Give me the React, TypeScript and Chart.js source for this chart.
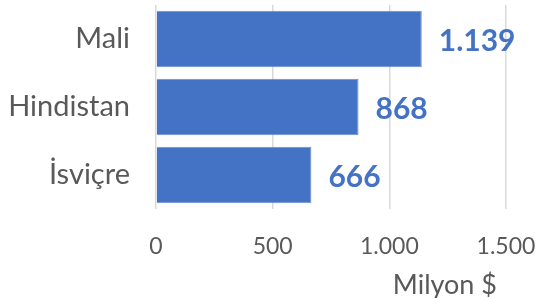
import React, { useEffect, useRef } from "react";
import { Chart, registerables } from "chart.js";

Chart.register(...registerables);

const categories = ["Mali", "Hindistan", "İsviçre"];
const values = [1139, 868, 666];
const valueLabels = ["1.139", "868", "666"];
const xTickValues = [0, 500, 1000, 1500];
const xTickLabels = ["0", "500", "1.000", "1.500"];
const axisTitle = "Milyon $";

const FONT = "Lato, 'Noto Sans', sans-serif";
const BLUE = "#4472C4";
const GRAY = "#595959";

const labelPlugin = {
  id: "barValueLabels",
  afterDatasetsDraw(chart: any) {
    const ctx = chart.ctx;
    const meta = chart.getDatasetMeta(0);
    ctx.save();
    ctx.font = `bold 30px ${FONT}`;
    ctx.fillStyle = BLUE;
    ctx.textAlign = "left";
    ctx.textBaseline = "middle";
    meta.data.forEach((bar: any, i: number) => {
      ctx.fillText(valueLabels[i], bar.x + 17, bar.y + 2);
    });
    // axis title
    const xs = chart.scales.x;
    ctx.font = `27px ${FONT}`;
    ctx.fillStyle = GRAY;
    ctx.textAlign = "right";
    ctx.textBaseline = "middle";
    ctx.fillText(axisTitle, xs.right - 9, 285);
    ctx.restore();
  },
};

const zeroPad = (scale: any) => {
  scale.paddingTop = 0;
  scale.paddingBottom = 0;
  scale.paddingLeft = 0;
  scale.paddingRight = 0;
};

export default function App() {
  const ref = useRef<HTMLCanvasElement | null>(null);
  useEffect(() => {
    document.body.style.margin = "0";
    const chart = new Chart(ref.current!, {
      type: "bar",
      data: {
        labels: categories,
        datasets: [
          {
            data: values,
            backgroundColor: BLUE,
            borderColor: "#6d8fd0",
            borderWidth: 1,
            categoryPercentage: 1,
            barPercentage: 0.833,
          },
        ],
      },
      options: {
        indexAxis: "y",
        animation: false,
        responsive: false,
        maintainAspectRatio: false,
        layout: { padding: { top: 5, right: 30, bottom: 0, left: 0 } },
        plugins: { legend: { display: false }, tooltip: { enabled: false } },
        scales: {
          x: {
            min: 0,
            max: 1500,
            afterBuildTicks: (scale: any) => {
              scale.ticks = xTickValues.map((v) => ({ value: v }));
            },
            afterFit: (scale: any) => {
              scale.height = 89;
              zeroPad(scale);
            },
            grid: { color: "#D9D9D9", lineWidth: 1.5, drawTicks: false },
            border: { display: false },
            ticks: {
              padding: 24,
              color: GRAY,
              font: { family: FONT, size: 23 },
              callback: (v: any) => xTickLabels[xTickValues.indexOf(Number(v))] ?? "",
            },
          },
          y: {
            afterFit: (scale: any) => {
              scale.width = 156;
              zeroPad(scale);
            },
            grid: { display: false, drawTicks: false },
            border: { display: false },
            ticks: {
              padding: 26,
              color: GRAY,
              font: { family: FONT, size: 29 },
            },
          },
        },
      },
      plugins: [labelPlugin],
    } as any);
    return () => chart.destroy();
  }, []);
  return (
    <div style={{ width: 536, height: 298 }}>
      <canvas ref={ref} width={536} height={298} style={{ display: "block" }} />
    </div>
  );
}
